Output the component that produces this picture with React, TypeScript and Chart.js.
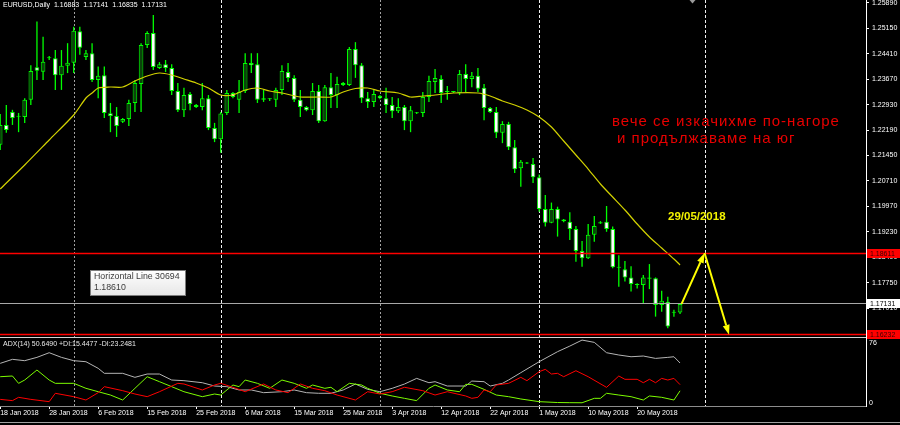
import { useEffect, useRef } from "react";
import { Chart, registerables } from "chart.js";

Chart.register(...registerables);

// ---------------- data ----------------
const symbolTitle = "EURUSD,Daily";

// daily bars, 18 Jan 2018 (index 0) .. 28 May 2018 (index 111), Sunday bars included
const opens = [
  1.2176, 1.2234, 1.2272, 1.2258, 1.2257, 1.2307, 1.2402, 1.2389, 1.2428, 1.2428,
  1.2379, 1.2406, 1.2415, 1.2507, 1.2432, 1.2443, 1.2365, 1.2379, 1.2268, 1.2260,
  1.2243, 1.2251, 1.2298, 1.2353, 1.2467, 1.2502, 1.2400, 1.2411, 1.2400, 1.2333,
  1.2277, 1.2324, 1.2292, 1.2286, 1.2312, 1.2225, 1.2192, 1.2269, 1.2327, 1.2307,
  1.2333, 1.2414, 1.2411, 1.2307, 1.2310, 1.2307, 1.2336, 1.2388, 1.2371, 1.2307,
  1.2286, 1.2277, 1.2333, 1.2245, 1.2344, 1.2321, 1.2356, 1.2350, 1.2455, 1.2408,
  1.2312, 1.2301, 1.2318, 1.2312, 1.2292, 1.2274, 1.2286, 1.2245, 1.2268, 1.2269,
  1.2315, 1.2359, 1.2368, 1.2330, 1.2330, 1.2327, 1.2382, 1.2368, 1.2377, 1.2342,
  1.2283, 1.2272, 1.2211, 1.2237, 1.2169, 1.2108, 1.2122, 1.2120, 1.2082, 1.1989,
  1.1949, 1.1989, 1.1959, 1.1952, 1.1931, 1.1867, 1.1846, 1.1914, 1.1947, 1.1952,
  1.1931, 1.1820, 1.1814, 1.1790, 1.1769, 1.1768, 1.1790, 1.1788, 1.1710, 1.1719,
  1.1687, 1.16883,
];
const highs = [
  1.2266, 1.2292, 1.2278, 1.2269, 1.2312, 1.2408, 1.2535, 1.2491, 1.2435, 1.2452,
  1.2452, 1.2472, 1.2520, 1.2520, 1.2452, 1.2472, 1.2404, 1.2404, 1.2298, 1.2286,
  1.2254, 1.2307, 1.2365, 1.2472, 1.2507, 1.2554, 1.2417, 1.2423, 1.2411, 1.2356,
  1.2342, 1.2330, 1.2295, 1.2356, 1.2321, 1.2240, 1.2272, 1.2336, 1.2330, 1.2365,
  1.2443, 1.2443, 1.2443, 1.2336, 1.2312, 1.2342, 1.2408, 1.2414, 1.2379, 1.2336,
  1.2289, 1.2356, 1.2350, 1.2350, 1.2385, 1.2374, 1.2359, 1.2461, 1.2475, 1.2414,
  1.2330, 1.2336, 1.2321, 1.2342, 1.2315, 1.2312, 1.2292, 1.2289, 1.2272, 1.2330,
  1.2377, 1.2397, 1.2379, 1.2347, 1.2333, 1.2394, 1.2411, 1.2388, 1.2400, 1.2353,
  1.2286, 1.2286, 1.2245, 1.2243, 1.2190, 1.2132, 1.2126, 1.2138, 1.2090, 1.2030,
  1.2008, 1.1996, 1.1960, 1.1980, 1.1940, 1.1896, 1.1946, 1.1969, 1.1954, 1.1998,
  1.1938, 1.1855, 1.1838, 1.1823, 1.1773, 1.1797, 1.1829, 1.1790, 1.1751, 1.1734,
  1.1696, 1.17141,
];
const lows = [
  1.2161, 1.2211, 1.2234, 1.2213, 1.2240, 1.2292, 1.2365, 1.2365, 1.2423, 1.2336,
  1.2336, 1.2385, 1.2385, 1.2438, 1.2423, 1.2359, 1.2312, 1.2254, 1.2213, 1.2199,
  1.2240, 1.2231, 1.2272, 1.2272, 1.2458, 1.2394, 1.2397, 1.2388, 1.2321, 1.2272,
  1.2257, 1.2277, 1.2283, 1.2277, 1.2219, 1.2184, 1.2153, 1.2263, 1.2312, 1.2269,
  1.2327, 1.2385, 1.2298, 1.2301, 1.2304, 1.2286, 1.2321, 1.2359, 1.2301, 1.2257,
  1.2274, 1.2263, 1.2240, 1.2243, 1.2283, 1.2283, 1.2347, 1.2347, 1.2371, 1.2298,
  1.2283, 1.2286, 1.2309, 1.2269, 1.2254, 1.2269, 1.2219, 1.2213, 1.2266, 1.2257,
  1.2301, 1.2327, 1.2298, 1.2307, 1.2327, 1.2321, 1.2330, 1.2344, 1.2330, 1.2248,
  1.2269, 1.2196, 1.2181, 1.2161, 1.2094, 1.2054, 1.2120, 1.2065, 1.1981, 1.1938,
  1.1948, 1.1909, 1.1951, 1.1899, 1.1836, 1.1821, 1.1844, 1.1894, 1.1946, 1.1923,
  1.1817, 1.1763, 1.1778, 1.1749, 1.1758, 1.1715, 1.1756, 1.1676, 1.1690, 1.1642,
  1.1676, 1.16835,
];
const closes = [
  1.2234, 1.2219, 1.2254, 1.2259, 1.2307, 1.2391, 1.2392, 1.2418, 1.2430, 1.2379,
  1.2406, 1.2415, 1.2508, 1.2459, 1.2443, 1.2365, 1.2377, 1.2269, 1.2260, 1.2231,
  1.2251, 1.2298, 1.2356, 1.2467, 1.2502, 1.2403, 1.2411, 1.2400, 1.2333, 1.2277,
  1.2321, 1.2295, 1.2286, 1.2312, 1.2225, 1.2192, 1.2267, 1.2327, 1.2315, 1.2330,
  1.2414, 1.2408, 1.2307, 1.2312, 1.2309, 1.2336, 1.2391, 1.2371, 1.2307, 1.2286,
  1.2277, 1.2333, 1.2245, 1.2344, 1.2321, 1.2353, 1.2350, 1.2455, 1.2408, 1.2312,
  1.2301, 1.2324, 1.2312, 1.2292, 1.2274, 1.2286, 1.2245, 1.2277, 1.2270, 1.2315,
  1.2362, 1.2371, 1.2327, 1.2331, 1.2331, 1.2382, 1.2368, 1.2377, 1.2339, 1.2283,
  1.2272, 1.2211, 1.2237, 1.2169, 1.2105, 1.2127, 1.2123, 1.2082, 1.1989, 1.1949,
  1.1989, 1.1959, 1.1954, 1.1931, 1.1867, 1.1846, 1.1914, 1.1940, 1.1951, 1.1931,
  1.1820, 1.1818, 1.1790, 1.1771, 1.1768, 1.1790, 1.1786, 1.1710, 1.1722, 1.1647,
  1.1689, 1.17131,
];

// moving average (yellow), read at these bar indices
const maBars = [0, 4, 8, 12, 14, 15, 16, 18, 20, 22, 24, 26, 28, 30, 32, 34, 36, 38, 40, 42, 44, 46, 49, 52, 54, 56, 58, 60, 62, 65, 67, 69, 71, 74, 78, 80, 82, 84, 86, 88, 90, 92, 94, 96, 98, 100, 102, 104, 106, 108, 110, 111];
const maPrices = [
  1.20475, 1.21174, 1.21902, 1.22629, 1.23124, 1.2327, 1.23415, 1.23444, 1.23444, 1.23619,
  1.23765, 1.23852, 1.23794, 1.23677, 1.23561, 1.23415, 1.23212, 1.23212, 1.23357, 1.23415,
  1.23328, 1.2327, 1.23153, 1.23153, 1.23153, 1.23299, 1.23401, 1.23415, 1.23328, 1.2327,
  1.23153, 1.23182, 1.23212, 1.2327, 1.2327, 1.23182, 1.23037, 1.2292, 1.22775, 1.22571,
  1.2228, 1.21873, 1.21465, 1.21057, 1.20621, 1.20242, 1.19864, 1.19456, 1.19078, 1.18758,
  1.18438, 1.18263,
];

// ADX(14) window
const adxBars = [0, 2, 4, 6, 8, 10, 12, 14, 16, 17, 20, 22, 24, 26, 28, 30, 33, 35, 37, 39, 41, 43, 46, 48, 50, 52, 54, 56, 58, 60, 62, 64, 66, 68, 70, 71, 73, 76, 77, 79, 80, 82, 83, 85, 88, 91, 93, 95, 97, 99, 101, 103, 105, 107, 109, 110, 111];
const adxValues = [
  50.2, 55.3, 53.6, 57.8, 63.7, 57.8, 53.6, 52.3, 43.9, 37.6,
  37.6, 32.5, 36.7, 36.7, 29.1, 28.3, 25.7, 21.5, 20.7, 16.5,
  16.5, 13.1, 14.3, 16.5, 13.1, 12.3, 12.3, 16.5, 24.0, 17.3,
  14.3, 18.6, 24.0, 31.2, 25.7, 27.0, 21.5, 21.5, 27.8, 27.0,
  21.5, 24.9, 29.1, 38.4, 52.3, 65.0, 72.1, 79.7, 76.8, 63.7,
  60.8, 58.6, 59.5, 56.5, 57.8, 58.6, 50.649,
];
const plusDiBars = [0, 2, 3, 4, 6, 8, 9, 12, 14, 16, 18, 20, 22, 24, 26, 28, 30, 33, 35, 36, 38, 39, 40, 42, 44, 46, 48, 50, 51, 53, 54, 55, 57, 59, 60, 62, 64, 66, 68, 70, 71, 73, 75, 76, 77, 79, 81, 83, 85, 88, 91, 93, 95, 97, 98, 99, 101, 103, 105, 106, 108, 110, 111];
const plusDiValues = [
  33.3, 34.2, 24.9, 29.1, 41.8, 29.1, 24.9, 24.9, 18.6, 14.3,
  10.1, 3.8, 18.6, 33.3, 27.0, 20.7, 14.3, 8.0, 11.4, 10.1,
  22.8, 20.7, 29.1, 24.9, 18.6, 29.1, 24.9, 18.6, 22.8, 18.6,
  19.9, 14.3, 24.9, 22.8, 18.6, 12.3, 8.9, 5.9, 3.0, 18.6,
  22.8, 16.5, 14.3, 23.6, 23.6, 17.3, 10.1, 8.0, 5.1, 1.7,
  0.6, 0.4, 0.3, 5.9, 5.9, 12.3, 10.1, 8.0, 3.8, 8.9,
  7.2, 3.8, 15.4477,
];
const minusDiBars = [0, 2, 3, 5, 8, 9, 12, 14, 16, 17, 20, 22, 24, 26, 29, 30, 33, 35, 36, 38, 40, 43, 45, 47, 49, 51, 53, 55, 58, 60, 62, 64, 66, 69, 71, 73, 76, 77, 78, 79, 80, 81, 83, 85, 86, 88, 89, 90, 91, 92, 94, 96, 99, 101, 102, 104, 105, 106, 107, 108, 109, 110, 111];
const minusDiValues = [
  4.6, 3.0, 7.2, 4.6, 1.7, 12.3, 8.0, 3.8, 13.1, 20.7,
  15.6, 11.4, 8.0, 14.3, 24.9, 24.1, 16.5, 22.8, 24.9, 19.9,
  14.3, 24.1, 16.5, 13.1, 24.1, 18.6, 15.6, 10.1, 3.8, 14.3,
  11.4, 14.3, 19.9, 15.6, 10.1, 14.3, 8.9, 5.9, 7.2, 16.5,
  14.3, 22.8, 24.9, 32.5, 28.3, 39.7, 42.6, 36.7, 37.6, 33.3,
  40.9, 33.3, 19.8, 34.2, 30.0, 30.0, 25.7, 30.0, 25.7, 31.2,
  29.1, 31.2, 23.2481,
];

// axes
const xTickBars = [0, 8, 16, 24, 32, 40, 48, 56, 64, 72, 80, 88, 96, 104];
const xTickLabels = [
  "18 Jan 2018", "28 Jan 2018", "6 Feb 2018", "15 Feb 2018", "25 Feb 2018", "6 Mar 2018",
  "15 Mar 2018", "25 Mar 2018", "3 Apr 2018", "12 Apr 2018", "22 Apr 2018", "1 May 2018",
  "10 May 2018", "20 May 2018",
];
const priceTicks = [1.2589, 1.2515, 1.2441, 1.2367, 1.2293, 1.2219, 1.2145, 1.2071, 1.1997, 1.1923, 1.1849, 1.1775, 1.1701];
const adxTicks = [76, 0];

// objects on the chart
const monthSeparatorBars = [12, 36, 62, 88, 115];
const levelPrices = [1.18611, 1.16232];
const arrowBars = [111.25, 115, 119];
const arrowPrices = [1.17131, 1.18611, 1.16232];
const shiftMarkerBar = 113;
const noteLines = ["вече се изкачихме по-нагоре", "и продължаваме на юг"];
const dateNote = "29/05/2018";
const tooltipLines = ["Horizontal Line 30694", "1.18610"];

// ---------------- styles ----------------
const FONT = "'Liberation Sans', Arial, sans-serif";
const separatorColors = ["#a0a0a0", "#f0f0f0", "#a0a0a0", "#f0f0f0", "#f0f0f0"];
const separatorDashes = [[2, 2], [3, 2], [2, 2], [3, 2], [3, 2]];

const zeroPadding = (s: any) => {
  s.paddingTop = 0;
  s.paddingBottom = 0;
  s.paddingLeft = 0;
  s.paddingRight = 0;
};

export default function App() {
  const ref = useRef<HTMLCanvasElement | null>(null);

  useEffect(() => {
    document.body.style.margin = "0";
    document.body.style.background = "#000";
    const canvas = ref.current;
    if (!canvas) return;

    const n = opens.length;
    const last = n - 1;
    const idx = opens.map((_, i) => i);
    const bull = idx.map((i) => closes[i] >= opens[i]);

    const wickData = idx.map((i) => ({ x: i, y: [lows[i], highs[i]] }));
    const bodyData = idx.map((i) => ({
      x: i,
      y: [Math.min(opens[i], closes[i]), Math.max(opens[i], closes[i])],
    }));
    const pts = (bars: number[], vals: number[]) => bars.map((b, k) => ({ x: b, y: vals[k] }));

    const overlay = {
      id: "overlay",
      beforeDatasetsDraw(chart: any) {
        const { ctx, chartArea: a, scales } = chart;
        ctx.save();
        monthSeparatorBars.forEach((b, k) => {
          const x = Math.round(scales.x.getPixelForValue(b)) + 0.5;
          ctx.strokeStyle = separatorColors[k];
          ctx.setLineDash(separatorDashes[k]);
          ctx.lineWidth = 1;
          ctx.beginPath();
          ctx.moveTo(x, a.top);
          ctx.lineTo(x, a.bottom);
          ctx.stroke();
        });
        ctx.restore();
      },
      afterDatasetsDraw(chart: any) {
        const { ctx, chartArea: a, scales } = chart;
        const xs = scales.x;
        const ys = scales.y;
        const px = (b: number) => xs.getPixelForValue(b);
        const py = (p: number) => ys.getPixelForValue(p);
        ctx.save();
        ctx.setLineDash([]);

        // horizontal lines
        const hline = (p: number, color: string, w: number) => {
          const y = Math.floor(py(p)) + 0.5;
          ctx.strokeStyle = color;
          ctx.lineWidth = w;
          ctx.beginPath();
          ctx.moveTo(a.left, y);
          ctx.lineTo(a.right, y);
          ctx.stroke();
        };
        hline(closes[last], "#a8a8a8", 1);
        levelPrices.forEach((p) => hline(p, "#ff0000", 1.5));

        // separator between the price window and the ADX window
        ctx.strokeStyle = "#d4d4d4";
        ctx.lineWidth = 1;
        ctx.beginPath();
        ctx.moveTo(a.left, ys.bottom + 0.5);
        ctx.lineTo(a.right, ys.bottom + 0.5);
        ctx.stroke();

        // yellow arrows
        ctx.strokeStyle = "#ffff00";
        ctx.fillStyle = "#ffff00";
        ctx.lineWidth = 2;
        const head = (x1: number, y1: number, x2: number, y2: number) => {
          const ang = Math.atan2(y2 - y1, x2 - x1);
          const len = 10;
          const half = 3.5;
          const bx = x2 - len * Math.cos(ang);
          const by = y2 - len * Math.sin(ang);
          ctx.beginPath();
          ctx.moveTo(x1, y1);
          ctx.lineTo(bx, by);
          ctx.stroke();
          ctx.beginPath();
          ctx.moveTo(x2, y2);
          ctx.lineTo(bx + half * Math.sin(ang), by - half * Math.cos(ang));
          ctx.lineTo(bx - half * Math.sin(ang), by + half * Math.cos(ang));
          ctx.closePath();
          ctx.fill();
        };
        for (let k = 0; k < arrowBars.length - 1; k++) {
          head(px(arrowBars[k]), py(arrowPrices[k]), px(arrowBars[k + 1]), py(arrowPrices[k + 1]));
        }

        // chart shift marker
        const sx = Math.round(px(shiftMarkerBar)) + 0.5;
        ctx.fillStyle = "#9a9a9a";
        ctx.beginPath();
        ctx.moveTo(sx - 3, 0);
        ctx.lineTo(sx + 3, 0);
        ctx.lineTo(sx, 3.5);
        ctx.closePath();
        ctx.fill();

        // header
        ctx.textBaseline = "middle";
        ctx.textAlign = "left";
        ctx.fillStyle = "#ffffff";
        ctx.font = `7px ${FONT}`;
        const ohlc = [opens[last], highs[last], lows[last], closes[last]].map((v) => v.toFixed(5)).join("  ");
        ctx.fillText(`${symbolTitle}  ${ohlc}`, 3, 5.5);

        // ADX label
        const adxText = `ADX(14) ${adxValues[adxValues.length - 1].toFixed(4)} +DI:${plusDiValues[plusDiValues.length - 1].toFixed(4)} -DI:${minusDiValues[minusDiValues.length - 1].toFixed(4)}`;
        ctx.fillStyle = "#e8e8e8";
        ctx.fillText(adxText, 3, ys.bottom + 7);

        // red note
        ctx.fillStyle = "#e80000";
        ctx.font = `15px ${FONT}`;
        (ctx as any).letterSpacing = "1px";
        ctx.textBaseline = "alphabetic";
        ctx.fillText(noteLines[0], 612, 125.5);
        ctx.fillText(noteLines[1], 617, 143);
        (ctx as any).letterSpacing = "0px";

        // date note
        ctx.fillStyle = "#f2f200";
        ctx.font = `bold 11.5px ${FONT}`;
        ctx.textBaseline = "middle";
        ctx.fillText(dateNote, 668, 216.5);

        // tooltip box
        const g = ctx.createLinearGradient(0, 270, 0, 296);
        g.addColorStop(0, "#ffffff");
        g.addColorStop(1, "#e6e6e6");
        ctx.fillStyle = g;
        ctx.fillRect(90.5, 270.5, 95, 25);
        ctx.strokeStyle = "#7c7c7c";
        ctx.lineWidth = 1;
        ctx.strokeRect(90.5, 270.5, 95, 25);
        ctx.fillStyle = "#3c3c3c";
        ctx.font = `8.8px ${FONT}`;
        ctx.fillText(tooltipLines[0], 94, 277);
        ctx.fillText(tooltipLines[1], 94, 288);

        // price boxes on the axis
        const box = (p: number, bg: string, fg: string) => {
          const yc = Math.floor(py(p)) + 0.5;
          ctx.fillStyle = bg;
          ctx.fillRect(a.right + 1, yc - 4.5, chart.width - a.right - 1, 9);
          ctx.fillStyle = fg;
          ctx.font = `7px ${FONT}`;
          ctx.textBaseline = "middle";
          ctx.fillText(p.toFixed(5), a.right + 4, yc + 0.5);
        };
        box(levelPrices[0], "#ff0000", "#3a0000");
        box(closes[last], "#ffffff", "#000000");
        box(levelPrices[1], "#ff0000", "#3a0000");

        // window bottom border
        ctx.strokeStyle = "#a0a0a0";
        ctx.beginPath();
        ctx.moveTo(0, 422.5);
        ctx.lineTo(chart.width, 422.5);
        ctx.stroke();

        ctx.restore();
      },
    };

    const chart = new Chart(canvas, {
      type: "bar",
      data: {
        datasets: [
          {
            type: "line",
            label: "MA",
            data: pts(maBars, maPrices),
            borderColor: "#d2d200",
            borderWidth: 1.2,
            pointRadius: 0,
            tension: 0.25,
            xAxisID: "x",
            yAxisID: "y",
            order: 0,
          } as any,
          {
            type: "bar",
            label: "bodies",
            data: bodyData as any,
            backgroundColor: idx.map((i) => (bull[i] ? "#0b420b" : "#ffffff")),
            borderColor: "#00ff00",
            borderWidth: 1,
            borderSkipped: false,
            inflateAmount: 0,
            barThickness: 4.6,
            minBarLength: 1,
            grouped: false,
            xAxisID: "x",
            yAxisID: "y",
            order: 1,
          } as any,
          {
            type: "bar",
            label: "wicks",
            data: wickData as any,
            backgroundColor: "#00ff00",
            borderWidth: 0,
            inflateAmount: 0,
            barThickness: 1.3,
            grouped: false,
            xAxisID: "x",
            yAxisID: "y",
            order: 2,
          } as any,
          {
            type: "line",
            label: "ADX",
            data: pts(adxBars, adxValues),
            borderColor: "#b4b4b4",
            borderWidth: 1,
            pointRadius: 0,
            xAxisID: "x",
            yAxisID: "y2",
            order: 3,
          } as any,
          {
            type: "line",
            label: "+DI",
            data: pts(plusDiBars, plusDiValues),
            borderColor: "#7cfc00",
            borderWidth: 1,
            pointRadius: 0,
            xAxisID: "x",
            yAxisID: "y2",
            order: 2,
          } as any,
          {
            type: "line",
            label: "-DI",
            data: pts(minusDiBars, minusDiValues),
            borderColor: "#ff0000",
            borderWidth: 1,
            pointRadius: 0,
            xAxisID: "x",
            yAxisID: "y2",
            order: 1,
          } as any,
        ],
      },
      options: {
        animation: false,
        responsive: false,
        maintainAspectRatio: false,
        devicePixelRatio: 1,
        events: [],
        layout: { padding: 0, autoPadding: false } as any,
        plugins: { legend: { display: false }, tooltip: { enabled: false }, title: { display: false } },
        scales: {
          x: {
            type: "linear",
            min: -0.0327,
            max: 141.36,
            offset: false,
            bounds: "data",
            grid: { display: true, drawOnChartArea: false, drawTicks: true, tickLength: 3, tickColor: "#ffffff", offset: false },
            border: { display: true, color: "#8c8c8c", width: 1 },
            ticks: {
              autoSkip: false,
              maxRotation: 0,
              minRotation: 0,
              align: "start",
              padding: 0,
              color: "#ffffff",
              font: { size: 7, family: FONT },
              callback: (_v: any, i: number) => xTickLabels[i],
            },
            afterBuildTicks: (s: any) => {
              s.ticks = xTickBars.map((v) => ({ value: v }));
            },
            afterFit: (s: any) => {
              s.height = 19;
              zeroPadding(s);
            },
          } as any,
          y: {
            type: "linear",
            position: "right",
            stack: "panes",
            stackWeight: 337,
            min: 1.16167,
            max: 1.25977,
            bounds: "data",
            beginAtZero: false,
            grid: { display: true, drawOnChartArea: false, drawTicks: true, tickLength: 3, tickColor: "#ffffff" },
            border: { display: true, color: "#ffffff", width: 1 },
            ticks: {
              autoSkip: false,
              padding: 3,
              color: "#ffffff",
              font: { size: 7, family: FONT },
              callback: (v: any) => Number(v).toFixed(5),
            },
            afterBuildTicks: (s: any) => {
              s.ticks = priceTicks.map((v) => ({ value: v }));
            },
            afterFit: (s: any) => {
              s.width = 34;
              zeroPadding(s);
            },
          } as any,
          y2: {
            type: "linear",
            position: "right",
            stack: "panes",
            stackWeight: 69,
            min: -3.8,
            max: 83.6,
            bounds: "data",
            beginAtZero: false,
            grid: { display: true, drawOnChartArea: false, drawTicks: false },
            border: { display: true, color: "#ffffff", width: 1 },
            ticks: {
              autoSkip: false,
              padding: 3,
              color: "#ffffff",
              font: { size: 7, family: FONT },
              callback: (v: any) => String(v),
            },
            afterBuildTicks: (s: any) => {
              s.ticks = adxTicks.map((v) => ({ value: v }));
            },
            afterFit: (s: any) => {
              s.width = 34;
              zeroPadding(s);
            },
          } as any,
        },
      } as any,
      plugins: [overlay as any],
    });

    return () => chart.destroy();
  }, []);

  return (
    <div style={{ position: "absolute", left: 0, top: 0, width: 900, height: 425, background: "#000", overflow: "hidden" }}>
      <canvas ref={ref} width={900} height={425} style={{ display: "block" }} />
    </div>
  );
}
